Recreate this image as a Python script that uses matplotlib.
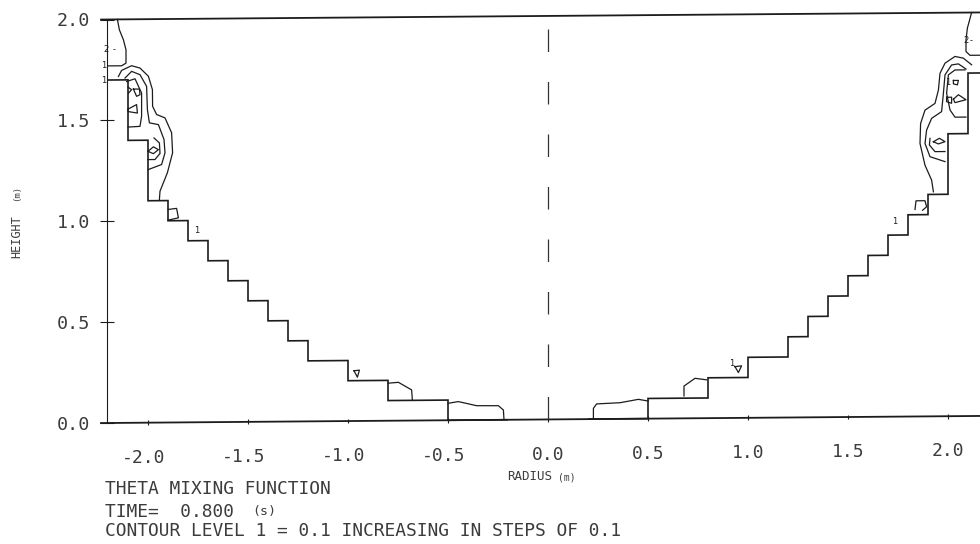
import matplotlib
matplotlib.use("Agg")
import matplotlib.pyplot as plt
from matplotlib.transforms import Affine2D, ScaledTranslation

x_ticks = [-2.0, -1.5, -1.0, -0.5, 0.0, 0.5, 1.0, 1.5, 2.0]
y_ticks = [0.0, 0.5, 1.0, 1.5, 2.0]

# staircase floor of the vessel
left_edges = [-2.2, -2.1, -2.0, -1.9, -1.8, -1.7, -1.6, -1.5, -1.4, -1.3, -1.2, -1.0, -0.8, -0.5, -0.2]
floor_heights = [1.7, 1.4, 1.1, 1.0, 0.9, 0.8, 0.7, 0.6, 0.5, 0.4, 0.3, 0.2, 0.1, 0.0]

# contour lines: (radius, height)
contours_left = [
    [(-2.153,2.0),(-2.143,1.948),(-2.123,1.899),(-2.11,1.849),(-2.11,1.783),(-2.132,1.77),(-2.2,1.77)],
    [(-2.148,1.717),(-2.132,1.747),(-2.082,1.77),(-2.04,1.758),(-1.998,1.717),(-1.978,1.651),(-1.977,1.568),
     (-1.957,1.527),(-1.915,1.51),(-1.882,1.436),(-1.877,1.337),(-1.903,1.238),(-1.94,1.147),(-1.943,1.105)],
    [(-2.115,1.709),(-2.082,1.742),(-2.04,1.725),(-2.007,1.667),(-2.003,1.552),(-1.993,1.486),(-1.948,1.477),
     (-1.92,1.403),(-1.915,1.337),(-1.932,1.279),(-2.0,1.254)],
    [(-2.107,1.692),(-2.065,1.705),(-2.032,1.634),(-2.032,1.519),(-2.04,1.469),(-2.1,1.466)],
    [(-2.0,1.304),(-1.965,1.304),(-1.94,1.334),(-1.943,1.386),(-1.97,1.411)],
    [(-2.0,1.345),(-1.973,1.367),(-1.948,1.353),(-1.973,1.333),(-2.0,1.345)],
    [(-2.1,1.555),(-2.057,1.577),(-2.053,1.535),(-2.1,1.543),(-2.1,1.555)],
    [(-2.073,1.654),(-2.043,1.654),(-2.04,1.626),(-2.057,1.618),(-2.073,1.654)],
    [(-2.1,1.664),(-2.082,1.651),(-2.098,1.634)],
    [(-1.9,1.056),(-1.857,1.061),(-1.848,1.014),(-1.9,1.003)],
    [(-0.97,0.249),(-0.943,0.252),(-0.953,0.217),(-0.97,0.249)],
    [(-0.8,0.186),(-0.748,0.19),(-0.682,0.152),(-0.678,0.1)],
    [(-0.5,0.084),(-0.448,0.092),(-0.357,0.071),(-0.248,0.07),(-0.223,0.0485),(-0.22,0.0)],
]
contours_right = [
    [(2.118,2.0),(2.097,1.923),(2.09,1.865),(2.09,1.807),(2.11,1.788),(2.16,1.788)],
    [(2.118,1.741),(2.077,1.774),(2.035,1.783),(1.985,1.75),(1.96,1.7),(1.952,1.617),(1.935,1.551),(1.885,1.518),
     (1.863,1.452),(1.86,1.353),(1.885,1.245),(1.918,1.171),(1.927,1.113)],
    [(2.09,1.72),(2.052,1.746),(2.018,1.741),(1.985,1.692),(1.977,1.601),(1.968,1.51),(1.918,1.477),(1.893,1.419),
     (1.885,1.353),(1.91,1.287),(1.985,1.262)],
    [(2.085,1.716),(2.035,1.716),(2.002,1.692),(1.993,1.601),(2.01,1.518),(2.035,1.482),(2.09,1.482)],
    [(1.985,1.312),(1.935,1.312),(1.907,1.345),(1.91,1.378)],
    [(1.927,1.361),(1.957,1.378),(1.985,1.361),(1.952,1.35),(1.927,1.361)],
    [(2.027,1.571),(2.052,1.593),(2.09,1.568),(2.035,1.554),(2.027,1.571)],
    [(2.027,1.664),(2.052,1.664),(2.047,1.642),(2.027,1.647),(2.027,1.664)],
    [(1.993,1.581),(2.018,1.581),(2.018,1.551),(1.993,1.559),(1.993,1.581)],
    [(1.835,1.026),(1.84,1.069),(1.885,1.069),(1.893,1.039),(1.873,1.022)],
    [(0.68,0.111),(0.68,0.16),(0.735,0.198),(0.793,0.19)],
    [(0.935,0.254),(0.968,0.258),(0.952,0.225),(0.935,0.254)],
    [(0.227,0.0),(0.227,0.053),(0.243,0.075),(0.36,0.08),(0.452,0.096),(0.502,0.087)],
]
level_labels = [(-2.21,1.85,"2"),(-2.17,1.85,"-"),(-2.22,1.77,"1"),(-2.22,1.70,"1"),(-1.755,0.95,"1"),
                (0.918,0.27,"1"),(1.735,0.965,"1"),(2.09,1.86,"2"),(2.115,1.86,"-"),(2.0,1.655,"1")]

INK = "#1c1c1c"
TXT = "#3c3c3c"
MONO = "DejaVu Sans Mono"

fig = plt.figure(figsize=(9.8, 5.44), dpi=100, facecolor="white")
ax = fig.add_axes([107/980, (544-423)/544, 873/980, 403.5/544])
ax.set_xlim(-2.205, 2.16)
ax.set_ylim(0, 2)
ax.patch.set_visible(False)
for s in ("top", "right", "bottom"):
    ax.spines[s].set_visible(False)
ax.spines["left"].set_linewidth(0.8)
ax.spines["left"].set_color(INK)

# the scanned plot is slightly tilted: apply it as a shear of the data
shear = Affine2D.from_values(1, 0.008, 0, 1, 0, 0.008*2.205) + ax.transData

ax.set_xticks(x_ticks, [f"{v:.1f}" for v in x_ticks])
ax.set_yticks(y_ticks, [f"{v:.1f}" for v in y_ticks])
ax.tick_params(axis="x", length=0, pad=19, labelsize=13, labelcolor=TXT)
ax.tick_params(axis="y", direction="inout", length=10, width=0.8, color=INK, pad=7, labelsize=13.2, labelcolor=TXT)
for lab in ax.get_xticklabels() + ax.get_yticklabels():
    lab.set_family(MONO)
for v, lab in zip(x_ticks, ax.get_xticklabels()):
    dx = -4 if v < 0 else 0
    lab.set_transform(lab.get_transform() + ScaledTranslation(dx/100, (v+2)*2/100*0.95, fig.dpi_scale_trans))

line = dict(color=INK, clip_on=False, transform=shear)
ax.plot([-2.235, 2.16], [0, 0], lw=1.3, **line)
ax.plot([-2.235, 2.16], [2, 2], lw=1.3, **line)
ax.vlines(x_ticks, -0.012, 0.012, lw=0.8, colors=INK, clip_on=False, transform=shear)
ax.plot([0, 0], [0, 2], lw=0.9, color="#333333", linestyle=(0, (18, 24)), clip_on=False, transform=shear)

ax.stairs(floor_heights, left_edges, lw=1.2, baseline=None, **line)
ax.stairs(floor_heights, [-e for e in left_edges], lw=1.2, baseline=None, **line)

for c in contours_left + contours_right:
    ax.plot([p[0] for p in c], [p[1] for p in c], lw=0.9, **line)
for x, y, t in level_labels:
    ax.text(x, y, t, fontsize=6, color=INK, ha="center", va="center", transform=shear)

mono = dict(family=MONO, color=TXT, va="baseline", ha="left")
fig.text(105/980, 1-493.5/544, "THETA MIXING FUNCTION", fontsize=12.9, **mono)
fig.text(105/980, 1-517/544, "TIME=  0.800", fontsize=12.9, **mono)
fig.text(252/980, 1-515/544, "(s)", fontsize=9.5, **mono)
fig.text(105/980, 1-536/544, "CONTOUR LEVEL 1 = 0.1 INCREASING IN STEPS OF 0.1", fontsize=12.9, **mono)
fig.text(507/980, 1-480/544, "RADIUS", fontsize=9, **mono)
fig.text(558/980, 1-480/544, "(m)", fontsize=7, **mono)
fig.text(17/980, 1-258/544, "HEIGHT", fontsize=8.6, rotation=90, family=MONO, color=TXT, va="bottom", ha="center")
fig.text(17/980, 1-201/544, "(m)", fontsize=6.4, rotation=90, family=MONO, color=TXT, va="bottom", ha="center")

fig.savefig("out.png", dpi=100)
